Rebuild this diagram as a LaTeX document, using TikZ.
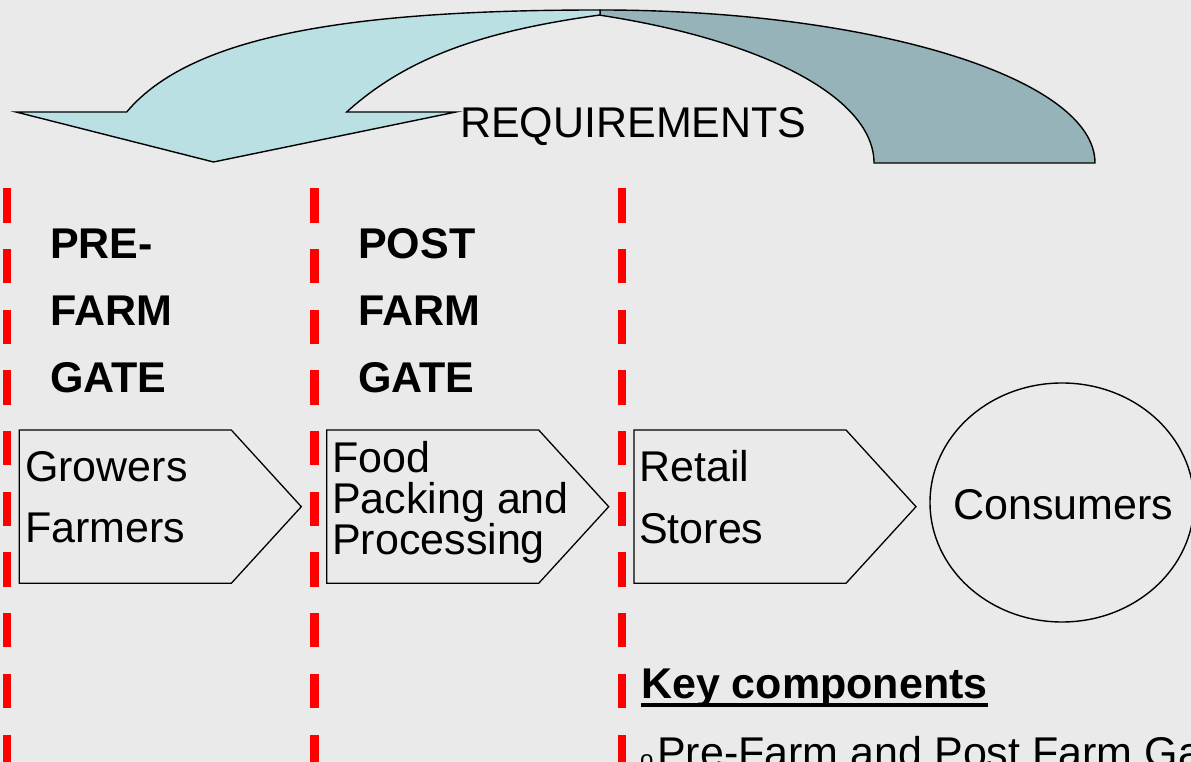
\documentclass[tikz,border=0pt]{standalone}
\usepackage{fontspec}
\setmainfont{Liberation Sans}
\usetikzlibrary{shapes.geometric}

\definecolor{bg}{HTML}{EAEAEA}
\definecolor{arrowlight}{HTML}{BAE0E4}
\definecolor{arrowdark}{HTML}{95B3B8}

\begin{document}
\begin{tikzpicture}[x=1pt,y=1pt,
  txt/.style={anchor=base west, inner sep=0pt, font=\fontsize{43}{43}\selectfont},
  boldtxt/.style={anchor=base west, inner sep=0pt, font=\fontsize{43}{43}\selectfont\bfseries},
  gate/.style={draw=red, line width=8.5pt, dash pattern=on 34.3pt off 26.4pt},
  stagebox/.style={draw=black, line width=1.3pt, fill=bg, line join=miter},
  band/.style={draw=black, line width=1.4pt, line join=miter}]

% canvas
\useasboundingbox (0,0) rectangle (1191,762);
\fill[bg] (0,0) rectangle (1191,762);
\clip (0,0) rectangle (1191,762);

% curved "requirements" arrow: back part first, front part with the head on top
\fill[arrowdark, band] (600,752) arc[start angle=90, end angle=0, x radius=495, y radius=153]
  -- (874,599) arc[start angle=0, end angle=66.6, x radius=454, y radius=161] -- cycle;
\fill[arrowlight, band] (126.7,650) -- (16,650) -- (213.5,600) -- (456,650) -- (346.7,650)
  .. controls (406.1,703.8) and (481,730.7) .. (600,747)
  -- (600,752) .. controls (350,752) and (191,726.6) .. (126.7,650) -- cycle;
\node[txt] (req) at (460,624) {REQUIREMENTS};

% gate boundaries
\foreach \n/\x in {1/7, 2/314.5, 3/622} {
  \coordinate (gate\n top) at (\x,573.7);
  \coordinate (gate\n bot) at (\x,-40);
  \draw[gate] (gate\n top) -- (gate\n bot);
}

% gate headings
\node[boldtxt] (pre1) at (50,503) {PRE-};
\node[boldtxt] (pre2) at (50,436) {FARM};
\node[boldtxt] (pre3) at (50,369) {GATE};
\node[boldtxt] (post1) at (358,503) {POST};
\node[boldtxt] (post2) at (358,436) {FARM};
\node[boldtxt] (post3) at (358,369) {GATE};

% supply chain stages
\foreach \x in {19.3, 326.7, 634} {
  \draw[stagebox] (\x,178.7) -- ++(212,0) -- ++(70,76.6) -- ++(-70,76.7) -- ++(-212,0) -- cycle;
}
\node[txt] (grow1) at (25,280) {Growers};
\node[txt] (grow2) at (25,219) {Farmers};
\node[txt] (food1) at (332,289) {Food};
\node[txt] (food2) at (332,248) {Packing and};
\node[txt] (food3) at (332,207) {Processing};
\node[txt] (ret1) at (639,280) {Retail};
\node[txt] (ret2) at (639,218) {Stores};

\node[draw=black, line width=1.4pt, ellipse, minimum width=264pt, minimum height=239pt,
      inner sep=0pt] (cons) at (1062,259.5) {};
\node[txt] (constxt) at (953,242) {Consumers};

% key components note
\node[boldtxt] (key) at (641,63) {Key components};
\draw[line width=4pt] ([yshift=-6pt]key.base west) -- ([yshift=-6pt]key.base east);
\node[anchor=base west, inner sep=0pt, font=\fontsize{24}{24}\selectfont] (bul) at (640,-6) {o};
\node[txt] (kc1) at (657,-6) {Pre-Farm and Post Farm Gate};

\end{tikzpicture}
\end{document}
